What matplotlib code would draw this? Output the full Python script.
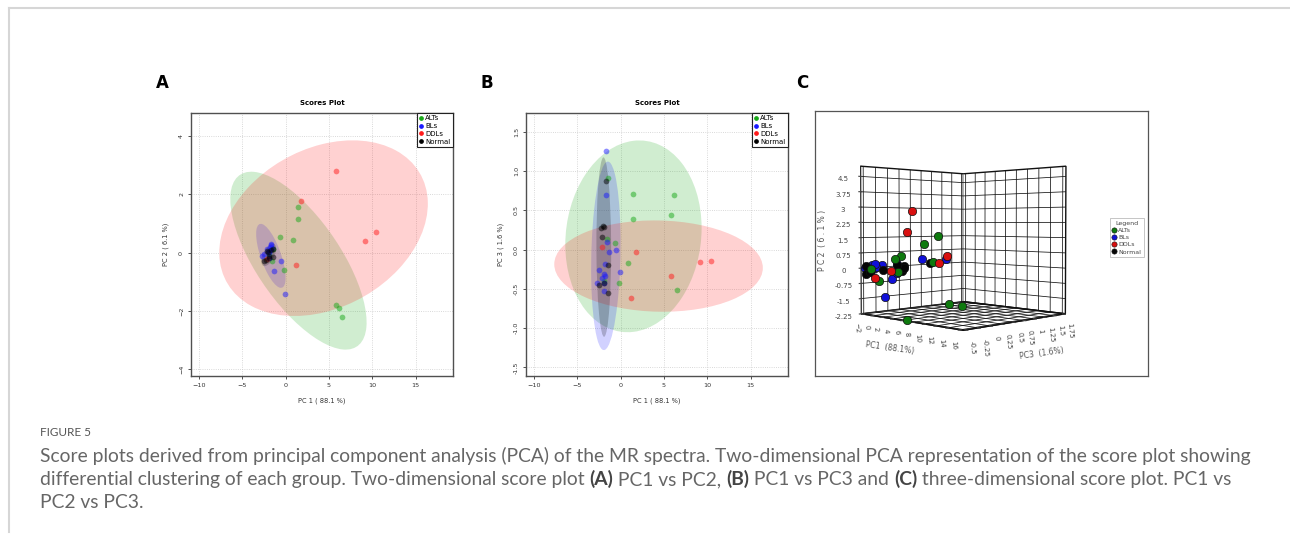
import numpy as np
import matplotlib.pyplot as plt
from matplotlib.patches import Ellipse
from matplotlib.lines import Line2D

# scores (PC1, PC2, PC3 per sample)
groups = ['ALTs', 'BLs', 'DDLs', 'Normal']

alts_pc1 = [1.39, 1.40, -0.63, 0.85, -0.13, 5.81, 6.20, 6.45, -1.50, -1.55, -1.95]
alts_pc2 = [1.55, 1.15, 0.53, 0.45, -0.58, -1.78, -1.90, -2.22, 0.13, -0.30, -0.05]
alts_pc3 = [0.71, 0.39, 0.09, -0.17, -0.42, 0.44, 0.69, -0.51, 0.91, 0.13, -0.40]

bls_pc1 = [-1.72, -1.72, -1.61, -1.38, -0.54, -1.80, -0.04, -2.49, -1.92, -1.80, -2.18, -2.72, -1.92, -1.88]
bls_pc2 = [0.25, 0.30, 0.15, -0.62, -0.29, 0.10, -1.42, -0.05, 0.05, 0.20, 0.12, -0.12, -0.20, 0.00]
bls_pc3 = [1.25, 0.69, 0.10, -0.03, 0.00, -0.18, -0.29, -0.26, -0.31, -0.34, -0.36, -0.42, -0.43, -0.53]

ddls_pc1 = [5.83, 1.78, 10.42, 9.17, 1.17, -2.10]
ddls_pc2 = [2.79, 1.77, 0.72, 0.39, -0.41, -0.22]
ddls_pc3 = [-0.34, -0.03, -0.14, -0.16, -0.62, 0.03]

normal_pc1 = [-1.65, -1.95, -2.30, -2.15, -1.49, -2.45, -1.92, -1.46, -2.05]
normal_pc2 = [0.10, -0.10, -0.25, 0.05, -0.15, -0.30, -0.20, 0.12, 0.02]
normal_pc3 = [0.87, 0.29, 0.28, 0.16, -0.19, -0.45, -0.42, -0.55, 0.30]

pc1 = [alts_pc1, bls_pc1, ddls_pc1, normal_pc1]
pc2 = [alts_pc2, bls_pc2, ddls_pc2, normal_pc2]
pc3 = [alts_pc3, bls_pc3, ddls_pc3, normal_pc3]

colors_2d = ['#18a818', '#1a1aff', '#ff1a1a', '#000000']
colors_3d = ['#0e7a0e', '#1010d8', '#d81010', '#050505']

pc1_ticks = [-2, 0, 2, 4, 6, 8, 10, 12, 14, 16]
pc2_ticks = [-2.25, -1.5, -0.75, 0, 0.75, 1.5, 2.25, 3, 3.75, 4.5]
pc2_labels = ['-2.25', '-1.5', '-0.75', '0', '0.75', '1.5', '2.25', '3', '3.75', '4.5']
pc3_ticks = [-0.5, -0.25, 0, 0.25, 0.5, 0.75, 1, 1.25, 1.5, 1.75]
pc3_labels = ['-0.5', '-0.25', '0', '0.25', '0.5', '0.75', '1', '1.25', '1.5', '1.75']

W, H = 1290, 537
fig = plt.figure(figsize=(W / 100, H / 100), dpi=100)


def px(x0, y0, w, h):
    return [x0 / W, 1 - (y0 + h) / H, w / W, h / H]


def conf_ellipse(ax, x, y, color):
    cov = np.cov(x, y)
    vals, vecs = np.linalg.eigh(cov)
    order = vals.argsort()[::-1]
    vals, vecs = vals[order], vecs[:, order]
    ang = np.degrees(np.arctan2(vecs[1, 0], vecs[0, 0]))
    r = np.sqrt(5.991)  # 95 % chi-square, 2 dof
    ax.add_patch(Ellipse((np.mean(x), np.mean(y)), 2 * r * np.sqrt(vals[0]),
                         2 * r * np.sqrt(vals[1]), angle=ang,
                         facecolor=color, alpha=0.2, edgecolor='none', zorder=1))


def score_plot(ax, ys, ylim, yticks, ylabel):
    for i in range(4):
        conf_ellipse(ax, pc1[i], ys[i], colors_2d[i])
    for i in range(4):
        ax.scatter(pc1[i], ys[i], s=17, color=colors_2d[i], alpha=0.5,
                   linewidths=0, zorder=3)
    ax.set_xlim(-10.9, 19.3)
    ax.set_ylim(*ylim)
    ax.set_xticks([-10, -5, 0, 5, 10, 15])
    ax.set_yticks(yticks)
    ax.grid(True, linestyle=':', color='#cccccc', linewidth=0.6)
    ax.set_axisbelow(True)
    for s in ax.spines.values():
        s.set_color('#505050')
        s.set_linewidth(1.0)
    ax.tick_params(labelsize=4.6, length=2, width=0.6, colors='#333333', pad=3)
    for lab in ax.get_yticklabels():
        lab.set_rotation(90)
        lab.set_va('center')
    ax.set_title('Scores Plot', fontsize=5, fontweight='bold', pad=6)
    ax.set_xlabel('PC 1 ( 88.1 %)', fontsize=4.8, color='#333333', labelpad=7)
    ax.set_ylabel(ylabel, fontsize=4.8, color='#333333', labelpad=7)
    handles = [Line2D([], [], marker='o', ls='none', ms=2.4, color=c) for c in colors_2d]
    leg = ax.legend(handles, groups, loc='upper right', borderaxespad=0, fontsize=5,
                    handlelength=0.6, handletextpad=0.3, labelspacing=0.25,
                    borderpad=0.35, fancybox=False, framealpha=1)
    leg.get_frame().set_edgecolor('#222222')
    leg.get_frame().set_linewidth(0.8)


axA = fig.add_axes(px(191, 113, 262, 263))
score_plot(axA, pc2, (-4.23, 4.79), [-4, -2, 0, 2, 4], 'PC 2 ( 6.1 %)')
axB = fig.add_axes(px(526, 113, 262, 263))
score_plot(axB, pc3, (-1.61, 1.74), [-1.5, -1.0, -0.5, 0.0, 0.5, 1.0, 1.5], 'PC 3 ( 1.6 %)')
axB.set_yticklabels(['-1.5', '-1.0', '-0.5', '0.0', '0.5', '1.0', '1.5'])
for lab in axB.get_yticklabels():
    lab.set_rotation(90)
    lab.set_va('center')

# panel C frame
axC = fig.add_axes(px(815, 111, 333, 265))
axC.set_xticks([])
axC.set_yticks([])
for s in axC.spines.values():
    s.set_color('#555555')
    s.set_linewidth(0.9)

ax3 = fig.add_axes(px(795, 121, 330, 245), projection='3d')
ax3.set_proj_type('persp', focal_length=0.5)
ax3.view_init(elev=1.5, azim=-45)
ax3.set_box_aspect((1, 1, 1.02), zoom=1.0)
ax3.patch.set_alpha(0)
for i in range(4):
    ax3.scatter(pc1[i], pc3[i], pc2[i], s=36, color=colors_3d[i], edgecolors='#111111',
                linewidths=0.5, depthshade=False, alpha=1)
ax3.set_xlim(-2.5, 16.5)
ax3.set_ylim(-0.55, 1.8)
ax3.set_zlim(-2.25, 5.0)
ax3.set_xticks(pc1_ticks)
ax3.set_yticks(pc3_ticks)
ax3.set_yticklabels(pc3_labels)
ax3.set_zticks(pc2_ticks)
ax3.set_zticklabels(pc2_labels)
for a in (ax3.xaxis, ax3.yaxis, ax3.zaxis):
    a.set_pane_color((1, 1, 1, 1))
    a.pane.set_edgecolor('#111111')
    a.line.set_color('#111111')
    a._axinfo['grid'].update(color='#111111', linewidth=0.55)
ax3.zaxis.set_ticks_position('lower')
ax3.tick_params(labelsize=5, colors='#444444', pad=0)
ax3.tick_params(axis='x', labelrotation=-85, pad=-3)
ax3.tick_params(axis='y', labelrotation=-85, pad=-3)

fig.text(822 / W, 1 - 240 / H, 'P C 2  ( 6 . 1 % )', rotation=90, fontsize=5.5,
         color='#555555', ha='center', va='center')
fig.text(890 / W, 1 - 348 / H, 'PC1  (88.1%)', rotation=-8, fontsize=5.5,
         color='#555555', ha='center', va='center')
fig.text(1042 / W, 1 - 353 / H, 'PC3  (1.6%)', rotation=8, fontsize=5.5,
         color='#555555', ha='center', va='center')

h3 = [Line2D([], [], marker='o', ls='none', ms=3.8, color=c, markeredgecolor='#111111',
             markeredgewidth=0.4) for c in colors_3d]
leg3 = fig.legend(h3, groups, loc='upper left', bbox_to_anchor=(1110 / W, 1 - 218 / H),
                  fontsize=4.5, title='Legend', title_fontsize=4.5, handlelength=0.6,
                  handletextpad=0.3, labelspacing=0.3, borderpad=0.4,
                  fancybox=False, framealpha=1, borderaxespad=0)
leg3.get_frame().set_edgecolor('#bbbbbb')
leg3.get_frame().set_linewidth(0.6)
for t in leg3.get_texts():
    t.set_color('#444444')
leg3.get_title().set_color('#444444')

# panel letters
for lx, letter in [(162, 'A'), (487, 'B'), (802, 'C')]:
    fig.text(lx / W, 1 - 83 / H, letter, fontsize=12, fontweight='bold',
             ha='center', va='center')

# page frame lines
fig.add_artist(Line2D([9 / W, 1], [1 - 8 / H, 1 - 8 / H], color='#d6d6d6', lw=1.5))
fig.add_artist(Line2D([9 / W, 9 / W], [1 - 8 / H, 1 - 532 / H], color='#d6d6d6', lw=1.5))

# caption
cap_font = 'Lato'
cap_color = '#666666'
fig.text(40 / W, 1 - 436 / H, 'FIGURE 5', fontsize=8.5, color='#555555',
         family=cap_font, va='baseline')

renderer = fig.canvas.get_renderer()


def caption_line(y, pieces):
    x = 40 / W
    for txt, bold in pieces:
        t = fig.text(x, 1 - y / H, txt, fontsize=13.9, family=cap_font,
                     color='#444444' if bold else cap_color,
                     fontweight='bold' if bold else 'normal', va='baseline')
        x = t.get_window_extent(renderer).x1 / W


caption_line(462, [('Score plots derived from principal component analysis (PCA) of the MR spectra. '
                    'Two-dimensional PCA representation of the score plot showing', False)])
caption_line(485, [('differential clustering of each group. Two-dimensional score plot ', False),
                   ('(A)', True), (' PC1 vs PC2, ', False), ('(B)', True),
                   (' PC1 vs PC3 and ', False), ('(C)', True),
                   (' three-dimensional score plot. PC1 vs', False)])
caption_line(508, [('PC2 vs PC3.', False)])

fig.savefig('out.png', dpi=100)
